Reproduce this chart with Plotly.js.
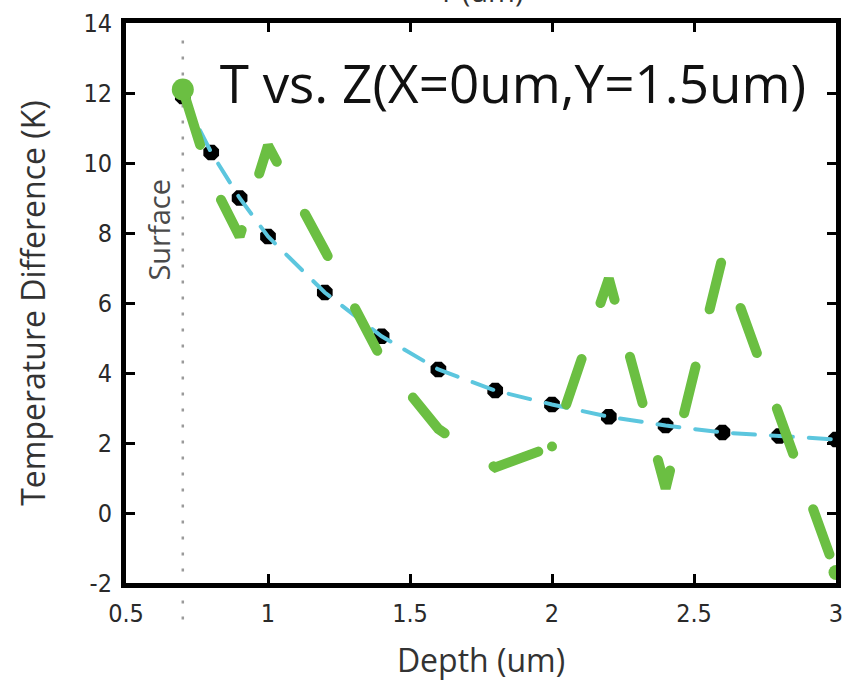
<!DOCTYPE html>
<html>
<head>
<meta charset="utf-8">
<script src="https://cdn.plot.ly/plotly-3.0.1.min.js"></script>
<style>
  html, body { margin: 0; padding: 0; background: #fff; }
  #chart { width: 844px; height: 682px; }
  .scatterlayer .js-line { stroke-linecap: round; }
  .scatterlayer .trace:nth-of-type(3) .js-line { stroke-dashoffset: -10px; }
</style>
</head>
<body>
<div id="chart"></div>
<script>
// Depth positions (um)
const depth = [0.7, 0.8, 0.9, 1.0, 1.2, 1.4, 1.6, 1.8, 2.0, 2.2, 2.4, 2.6, 2.8, 3.0];
// Black points / cyan dashed curve (K)
const simulated = [11.9, 10.3, 9.0, 7.9, 6.3, 5.05, 4.1, 3.5, 3.1, 2.75, 2.5, 2.3, 2.2, 2.1];
// Green dashed series (K)
const measured = [12.1, 9.5, 7.9, 10.5, 7.5, 4.4, 2.4, 1.3, 1.9, 6.7, 0.7, 7.3, 2.8, -1.7];
// Surface position (um)
const surfaceDepth = 0.7;
const xTicks = [0.5, 1, 1.5, 2, 2.5, 3];
const xTickText = ['0.5', '1', '1.5', '2', '2.5', '3'];
const yTicks = [-2, 0, 2, 4, 6, 8, 10, 12, 14];
const yTickText = ['-2', '0', '2', '4', '6', '8', '10', '12', '14'];

const titleFont = 'Open Sans, Noto Sans, DejaVu Sans, sans-serif';
const tickFontFamily = 'Liberation Sans Narrow, DejaVu Sans Condensed, Liberation Sans, sans-serif';

const traces = [
  {
    x: depth, y: simulated, type: 'scatter', mode: 'markers',
    marker: { symbol: 'octagon', size: 17, color: '#000' },
    hoverinfo: 'x+y', showlegend: false
  },
  {
    x: depth, y: simulated, type: 'scatter', mode: 'lines',
    line: { color: '#5cc6de', width: 4, dash: '22px,16px' },
    showlegend: false
  },
  {
    x: depth, y: measured, type: 'scatter', mode: 'lines+markers',
    line: { color: '#6bbf42', width: 10, dash: '48px,59px' },
    marker: { color: '#6bbf42', opacity: 1, line: { width: 0 },
              size: [22, 0, 0, 0, 0, 0, 0, 0, 10, 0, 0, 0, 0, 15] },
    showlegend: false
  }
];

const axisCommon = {
  showline: true, linecolor: '#000', linewidth: 5, mirror: 'ticks',
  ticks: 'inside', ticklen: 9, tickwidth: 3, tickcolor: '#000',
  showgrid: false, zeroline: false,
  tickfont: { family: tickFontFamily, size: 25, color: '#2a2a2a' }
};

const layout = {
  width: 844, height: 682,
  margin: { l: 126, r: 8, t: 23, b: 99 },
  paper_bgcolor: '#fff', plot_bgcolor: '#fff',
  showlegend: false,
  title: {
    text: 'T vs. Z(X=0um,Y=1.5um)',
    font: { family: titleFont, size: 53, color: '#111' },
    xref: 'paper', yref: 'paper', x: 0.545, y: 0.89,
    xanchor: 'center', yanchor: 'middle'
  },
  xaxis: Object.assign({}, axisCommon, {
    range: [0.5, 3], tickvals: xTicks, ticktext: xTickText,
    ticklabelstandoff: 4,
    title: { text: 'Depth (um)', font: { family: titleFont, size: 32, color: '#333' }, standoff: 24 }
  }),
  yaxis: Object.assign({}, axisCommon, {
    range: [-2, 14], tickvals: yTicks, ticktext: yTickText,
    ticklabelstandoff: 4,
    title: { text: 'Temperature Difference (K)', font: { family: titleFont, size: 32, color: '#333' }, standoff: 30 }
  }),
  shapes: [
    {
      type: 'line', xref: 'x', yref: 'paper',
      x0: surfaceDepth, x1: surfaceDepth, y0: -0.065, y1: 0.975,
      line: { color: '#9a9a9a', width: 2.5, dash: '3px,13px' },
      layer: 'below'
    }
  ],
  annotations: [
    {
      text: 'Surface', xref: 'x', yref: 'y', x: 0.613, y: 8.1,
      textangle: -90, showarrow: false,
      font: { family: titleFont, size: 29, color: '#4a4a4a' }
    },
    {
      text: 'Y (um)', xref: 'paper', yref: 'paper', x: 0.5, y: 1.02,
      xanchor: 'center', yanchor: 'bottom', showarrow: false,
      font: { family: titleFont, size: 29, color: '#333' }
    }
  ]
};

Plotly.newPlot('chart', traces, layout, { displayModeBar: false, staticPlot: true });
</script>
</body>
</html>
